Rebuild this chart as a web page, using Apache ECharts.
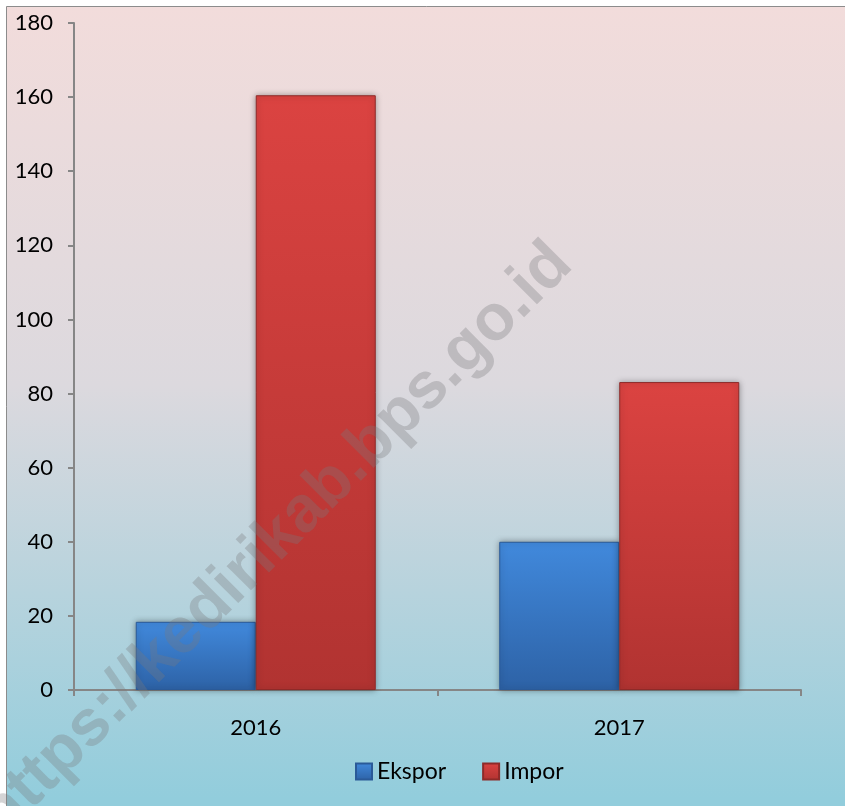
<!DOCTYPE html>
<html>
<head>
<meta charset="utf-8">
<script src="https://cdn.jsdelivr.net/npm/echarts@6/dist/echarts.min.js"></script>
<style>
  html, body { margin: 0; padding: 0; background: #ffffff; }
  #main { width: 845px; height: 806px; }
</style>
</head>
<body>
<div id="main"></div>
<script>
// data
var years = ['2016', '2017']
var ekspor = [18.4, 40]
var impor = [160.5, 83.1]
var yTicks = [0, 20, 40, 60, 80, 100, 120, 140, 160, 180]

var chart = echarts.init(document.getElementById('main'))
var font = 'Lato, "Open Sans", sans-serif'

var blueFill = new echarts.graphic.LinearGradient(0, 0, 0, 1, [
  { offset: 0, color: '#4189dc' },
  { offset: 1, color: '#2d62a6' }
])
var redFill = new echarts.graphic.LinearGradient(0, 0, 0, 1, [
  { offset: 0, color: '#db4341' },
  { offset: 1, color: '#b13331' }
])

var option = {
  animation: false,
  graphic: [
    {
      type: 'rect',
      z: -10,
      shape: { x: 6.5, y: 6.5, width: 900, height: 900 },
      style: {
        fill: new echarts.graphic.LinearGradient(0, 0, 0, 1, [
          { offset: 0, color: '#f2dcdb' },
          { offset: 0.42, color: '#dcd9de' },
          { offset: 0.88, color: '#92cddc' },
          { offset: 1, color: '#92cddc' }
        ]),
        stroke: '#8c8c8c',
        lineWidth: 1
      },
      silent: true
    },
    {
      type: 'text',
      z: 100,
      x: 276,
      y: 540,
      rotation: Math.PI / 4,
      style: {
        text: 'https://kedirikab.bps.go.id',
        font: 'bold 65px "Liberation Sans", Arial, sans-serif',
        fill: 'rgba(120,120,125,0.32)',
        align: 'center',
        verticalAlign: 'middle'
      },
      silent: true
    }
  ],
  grid: { left: 74, right: 44, top: 23, bottom: 116 },
  legend: {
    left: 350,
    top: 755,
    itemWidth: 16,
    itemHeight: 16,
    itemGap: 36,
    textStyle: { fontFamily: font, fontSize: 23, color: '#000' },
    data: [
      { name: 'Ekspor', icon: 'rect' },
      { name: 'Impor', icon: 'rect' }
    ]
  },
  xAxis: {
    type: 'category',
    data: years,
    axisLine: { lineStyle: { color: '#868686', width: 2 } },
    axisTick: { show: true, length: 6, lineStyle: { color: '#868686', width: 2 } },
    axisLabel: { color: '#000', fontFamily: font, fontSize: 22, margin: 27 }
  },
  yAxis: {
    type: 'value',
    min: 0,
    max: 180,
    interval: 20,
    axisLine: { show: true, lineStyle: { color: '#868686', width: 2 } },
    axisTick: { show: true, length: 6, lineStyle: { color: '#868686', width: 2 } },
    splitLine: { show: false },
    axisLabel: {
      color: '#000', fontFamily: font, fontSize: 22, margin: 21,
      formatter: function (v) { return yTicks.indexOf(v) >= 0 ? String(v) : '' }
    }
  },
  series: [
    {
      name: 'Ekspor',
      type: 'bar',
      data: ekspor,
      barWidth: 120,
      barGap: '0%',
      itemStyle: {
        color: blueFill,
        borderColor: '#2a5a98',
        borderWidth: 1,
        shadowBlur: 6,
        shadowColor: 'rgba(0,0,0,0.35)'
      }
    },
    {
      name: 'Impor',
      type: 'bar',
      data: impor,
      barWidth: 120,
      itemStyle: {
        color: redFill,
        borderColor: '#8e2a28',
        borderWidth: 1,
        shadowBlur: 6,
        shadowColor: 'rgba(0,0,0,0.35)'
      }
    }
  ]
}

chart.setOption(option)
</script>
</body>
</html>
